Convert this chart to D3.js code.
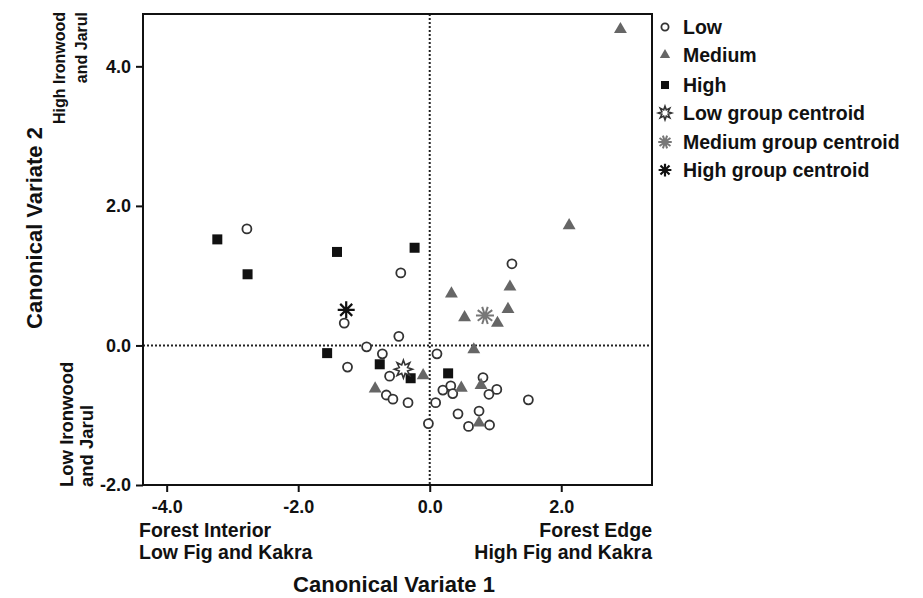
<!DOCTYPE html>
<html>
<head>
<meta charset="utf-8" />
<title>canonical variates</title>
<style>
  body { margin: 0; background: #fff; }
  svg text { font-family: Arial, "Liberation Sans", sans-serif; font-weight: bold; fill: #111; }
</style>
</head>
<body>
<div id="wrapper"></div>
<script src="https://cdnjs.cloudflare.com/ajax/libs/d3/7.8.5/d3.min.js"></script>
<script>
// values (canonical variate 1 / 2)
const lowCV1 = [-2.78, -0.44, 1.25, -1.30, -0.47, -0.96, -0.72, -1.25, 0.11, -0.61, -0.66, -0.56, -0.33,
  -0.02, 0.09, 0.20, 0.32, 0.35, 0.43, 0.59, 0.75, 0.81, 1.02, 0.90, 0.91, 1.50]
const lowCV2 = [1.67, 1.04, 1.17, 0.32, 0.13, -0.02, -0.12, -0.31, -0.12, -0.44, -0.71, -0.77, -0.82,
  -1.12, -0.82, -0.64, -0.58, -0.69, -0.98, -1.16, -0.94, -0.46, -0.63, -0.70, -1.14, -0.78]

const medCV1 = [2.90, 2.12, 1.22, 0.33, 1.19, 0.53, 1.03, 0.67, -0.10, -0.83, 0.48, 0.78, 0.75]
const medCV2 = [4.53, 1.72, 0.84, 0.74, 0.52, 0.40, 0.32, -0.06, -0.43, -0.62, -0.61, -0.57, -1.11]

const highCV1 = [-3.23, -2.77, -1.41, -0.23, -1.56, -0.76, -0.29, 0.28]
const highCV2 = [1.52, 1.02, 1.34, 1.40, -0.11, -0.27, -0.47, -0.40]

// group centroids: low, medium, high
const centroidCV1 = [-0.40, 0.84, -1.27]
const centroidCV2 = [-0.34, 0.43, 0.51]

const legendLabels = ["Low", "Medium", "High", "Low group centroid", "Medium group centroid", "High group centroid"]
const xTicks = [-4, -2, 0, 2]
const yTicks = [-2, 0, 2, 4]

const width = 923
const height = 598
const pLeft = 143, pRight = 652, pTop = 14, pBottom = 485

const x = d3.scaleLinear().domain([-4.36, 3.38]).range([pLeft, pRight])
const y = d3.scaleLinear().domain([-2, 4.75]).range([pBottom, pTop])

const svg = d3.select("#wrapper").append("svg")
    .attr("width", width)
    .attr("height", height)

// dotted zero lines
svg.append("line")
    .attr("x1", x(0)).attr("x2", x(0)).attr("y1", pTop).attr("y2", pBottom)
    .attr("stroke", "#222").attr("stroke-width", 2).attr("stroke-dasharray", "2,2")
svg.append("line")
    .attr("x1", pLeft).attr("x2", pRight).attr("y1", y(0)).attr("y2", y(0))
    .attr("stroke", "#222").attr("stroke-width", 2).attr("stroke-dasharray", "2,2")

// frame
svg.append("rect")
    .attr("x", pLeft).attr("y", pTop)
    .attr("width", pRight - pLeft).attr("height", pBottom - pTop)
    .attr("fill", "none").attr("stroke", "#111").attr("stroke-width", 2)

const fmt = d => d.toFixed(1)

const xAxis = svg.append("g")
    .attr("transform", "translate(0," + pBottom + ")")
    .call(d3.axisBottom(x).tickValues(xTicks).tickFormat(fmt).tickSize(7).tickSizeOuter(0).tickPadding(8))
const yAxis = svg.append("g")
    .attr("transform", "translate(" + pLeft + ",0)")
    .call(d3.axisLeft(y).tickValues(yTicks).tickFormat(fmt).tickSize(7).tickSizeOuter(0).tickPadding(5))

for (const ax of [xAxis, yAxis]) {
  ax.select(".domain").remove()
  ax.selectAll(".tick line").attr("stroke", "#111").attr("stroke-width", 2)
  ax.selectAll(".tick text").style("font-size", "18px").attr("fill", "#111")
}

// marker shapes
function starburst(r1, r2, n) {
  const pts = []
  for (let i = 0; i < n * 2; i++) {
    const a = Math.PI * i / n - Math.PI / 2
    const r = i % 2 === 0 ? r1 : r2
    pts.push([r * Math.cos(a), r * Math.sin(a)])
  }
  return "M" + pts.join("L") + "Z"
}
function asterisk(r, n) {
  let p = ""
  for (let i = 0; i < n; i++) {
    const a = Math.PI * i / n
    p += "M" + (r * Math.cos(a)) + "," + (r * Math.sin(a)) + "L" + (-r * Math.cos(a)) + "," + (-r * Math.sin(a))
  }
  return p
}

function drawMarker(g, kind, scale) {
  const s = scale || 1
  if (kind === 0) {
    g.append("circle").attr("r", 4.5 * s)
        .attr("fill", "#fff").attr("stroke", "#333").attr("stroke-width", 1.8)
  } else if (kind === 1) {
    g.append("path").attr("d", d3.symbol().type(d3.symbolTriangle).size(72 * s * s)())
        .attr("fill", "#666")
  } else if (kind === 2) {
    g.append("rect").attr("x", -5 * s).attr("y", -5 * s).attr("width", 10 * s).attr("height", 10 * s)
        .attr("fill", "#111")
  } else if (kind === 3) {
    g.append("path").attr("d", starburst(9 * s, 4.5 * s, 8))
        .attr("fill", "#fff").attr("stroke", "#333").attr("stroke-width", 1.6)
  } else if (kind === 4) {
    g.append("path").attr("d", asterisk(9 * s, 5))
        .attr("stroke", "#777").attr("stroke-width", 2).attr("fill", "none")
  } else {
    g.append("path").attr("d", asterisk(8.5 * s, 4))
        .attr("stroke", "#111").attr("stroke-width", 2.2).attr("fill", "none")
  }
}

const groups = [
  [lowCV1, lowCV2, 0],
  [medCV1, medCV2, 1],
  [highCV1, highCV2, 2]
]

const plot = svg.append("g")
for (const [xs, ys, kind] of groups) {
  plot.selectAll(null)
    .data(d3.range(xs.length))
    .enter().append("g")
    .attr("transform", i => "translate(" + x(xs[i]) + "," + y(ys[i]) + ")")
    .each(function() { drawMarker(d3.select(this), kind, 1) })
}
plot.selectAll(null)
  .data(d3.range(centroidCV1.length))
  .enter().append("g")
  .attr("transform", i => "translate(" + x(centroidCV1[i]) + "," + y(centroidCV2[i]) + ")")
  .each(function(i) { drawMarker(d3.select(this), 3 + i, 1) })

// legend
const legendRows = [27, 55, 85, 113, 142, 170]
const legend = svg.append("g")
legendLabels.forEach((label, i) => {
  const g = legend.append("g").attr("transform", "translate(665," + legendRows[i] + ")")
  drawMarker(g, i, i < 3 ? 0.8 : 0.75)
  legend.append("text")
    .attr("x", 683).attr("y", legendRows[i] + 7)
    .style("font-size", "19.5px")
    .text(label)
})

// axis titles and annotations
svg.append("text")
    .attr("x", 394).attr("y", 592)
    .attr("text-anchor", "middle")
    .style("font-size", "22px")
    .text("Canonical Variate 1")
svg.append("text")
    .attr("transform", "translate(42,228) rotate(-90)")
    .attr("text-anchor", "middle")
    .style("font-size", "22px")
    .text("Canonical Variate 2")

svg.append("text").attr("x", 139).attr("y", 537).style("font-size", "19.5px").text("Forest Interior")
svg.append("text").attr("x", 139).attr("y", 559).style("font-size", "19.5px").text("Low Fig and Kakra")
svg.append("text").attr("x", 652).attr("y", 537).attr("text-anchor", "end").style("font-size", "19.5px").text("Forest Edge")
svg.append("text").attr("x", 652).attr("y", 559).attr("text-anchor", "end").style("font-size", "19.5px").text("High Fig and Kakra")

svg.append("text")
    .attr("transform", "translate(65,12) rotate(-90)")
    .attr("text-anchor", "end")
    .style("font-size", "16px")
    .text("High Ironwood")
svg.append("text")
    .attr("transform", "translate(87,12) rotate(-90)")
    .attr("text-anchor", "end")
    .style("font-size", "16px")
    .text("and Jarul")
svg.append("text")
    .attr("transform", "translate(73,487) rotate(-90)")
    .style("font-size", "18.5px")
    .text("Low Ironwood")
svg.append("text")
    .attr("transform", "translate(93,487) rotate(-90)")
    .style("font-size", "18.5px")
    .text("and Jarul")
</script>
</body>
</html>
